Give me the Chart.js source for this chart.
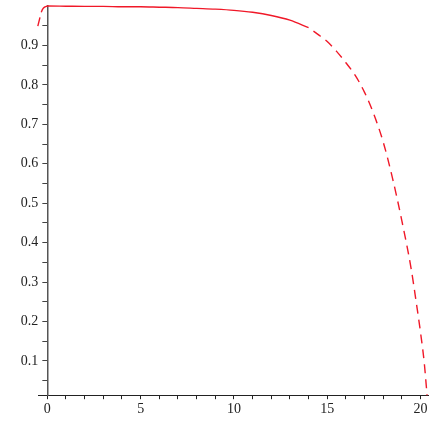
<!DOCTYPE html>
<html>
<head>
<meta charset="utf-8">
<script src="https://cdn.jsdelivr.net/npm/chart.js@4"></script>
<style>
  html, body { margin: 0; padding: 0; background: #fff; }
</style>
</head>
<body>
<canvas id="chart" width="436" height="436"></canvas>
<script>
// curve: solid middle part, dashed at both ends
const xSolid = [-0.33, -0.25, -0.15, -0.05, 0, 1, 2, 3, 4, 5, 6, 7, 8, 9, 10, 11, 12, 13, 14];
const ySolid = [0.984, 0.992, 0.997, 0.999, 1.0, 0.9995, 0.999, 0.999, 0.998, 0.998, 0.997, 0.996, 0.994, 0.992, 0.989, 0.984, 0.976, 0.964, 0.945];

const xDashLeft = [-0.51, -0.43, -0.33];
const yDashLeft = [0.949, 0.964, 0.984];

const xDashRight = [14, 14.5, 15, 15.5, 16, 16.5, 17, 17.5, 18, 18.5, 19, 19.5, 19.75, 20, 20.2, 20.35];
const yDashRight = [0.945, 0.928, 0.910, 0.885, 0.856, 0.824, 0.781, 0.725, 0.655, 0.563, 0.455, 0.333, 0.255, 0.172, 0.095, 0.013];

const xMin = -0.5, xMax = 20.4;
const yMin = 0.013, yMax = 1.0;

const lineColor = '#f01828';

function toPoints(xs, ys) {
  return xs.map((x, i) => ({ x: x, y: ys[i] }));
}

function curve(xs, ys, dashed) {
  return {
    data: toPoints(xs, ys),
    showLine: true,
    borderColor: lineColor,
    borderWidth: 1.4,
    borderDash: dashed ? [9, 6] : [],
    borderDashOffset: dashed === 'gapFirst' ? 9 : 0,
    pointRadius: 0,
    cubicInterpolationMode: 'monotone',
    clip: false
  };
}

// the y axis crosses the x axis at x = 0, with its labels on the left
const yAxisAtZero = {
  id: 'yAxisAtZero',
  afterLayout(chart) {
    const y = chart.scales.y;
    const dx = chart.scales.x.getPixelForValue(0) - y.right;
    y.left += dx;
    y.right += dx;
  }
};

Chart.defaults.font.family = "'Liberation Serif', 'DejaVu Serif', serif";
Chart.defaults.font.size = 14;
Chart.defaults.color = '#222';

new Chart(document.getElementById('chart'), {
  type: 'scatter',
  data: {
    datasets: [
      curve(xDashLeft, yDashLeft, true),
      curve(xSolid, ySolid, false),
      curve(xDashRight, yDashRight, 'gapFirst')
    ]
  },
  options: {
    responsive: false,
    animation: false,
    layout: { padding: { left: 11, right: 8, top: 6, bottom: 16 } },
    plugins: { legend: { display: false }, tooltip: { enabled: false } },
    scales: {
      x: {
        type: 'linear',
        position: 'bottom',
        min: xMin,
        max: xMax,
        grid: { drawOnChartArea: false, tickLength: 4, color: '#222' },
        border: { color: '#222', width: 1 },
        afterFit: s => { s.paddingLeft = 0; s.paddingRight = 0; },
        ticks: {
          stepSize: 1,
          includeBounds: false,
          autoSkip: false,
          maxRotation: 0,
          padding: 2,
          callback: v => (v % 5 === 0 ? String(v) : '')
        }
      },
      y: {
        type: 'linear',
        position: 'left',
        min: yMin,
        max: yMax,
        grid: { drawOnChartArea: false, tickLength: 5, color: '#444' },
        border: { color: '#555', width: 1.5 },
        afterBuildTicks: s => { s.ticks = s.ticks.filter(t => t.value < 0.999); },
        afterFit: s => { s.width = 27; s.paddingTop = 0; s.paddingBottom = 0; },
        ticks: {
          stepSize: 0.05,
          includeBounds: false,
          autoSkip: false,
          padding: 4,
          callback: v => (Math.round(v * 100) % 10 === 0 ? v.toFixed(1) : '')
        }
      }
    }
  },
  plugins: [yAxisAtZero]
});
</script>
</body>
</html>
